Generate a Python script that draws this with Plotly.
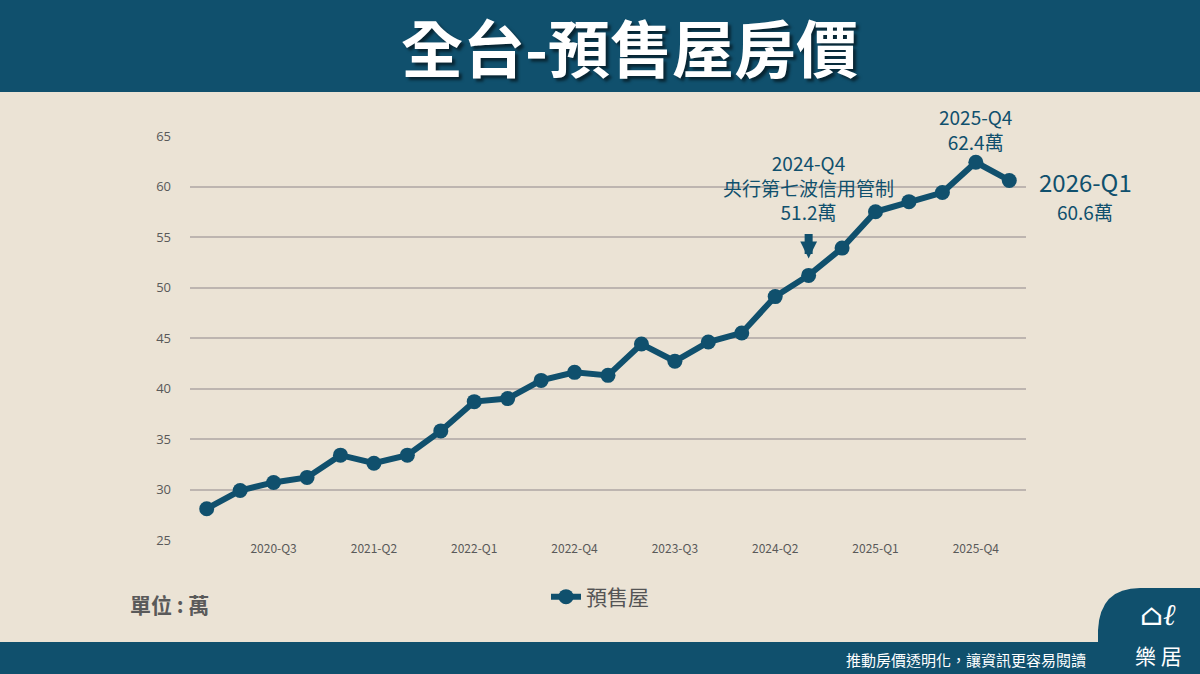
import plotly.graph_objects as go

# ── data ──
quarters = [
    "2020-Q1", "2020-Q2", "2020-Q3", "2020-Q4",
    "2021-Q1", "2021-Q2", "2021-Q3", "2021-Q4",
    "2022-Q1", "2022-Q2", "2022-Q3", "2022-Q4",
    "2023-Q1", "2023-Q2", "2023-Q3", "2023-Q4",
    "2024-Q1", "2024-Q2", "2024-Q3", "2024-Q4",
    "2025-Q1", "2025-Q2", "2025-Q3", "2025-Q4",
    "2026-Q1",
]
presale_price = [
    28.1, 29.9, 30.7, 31.2,
    33.4, 32.6, 33.4, 35.8,
    38.7, 39.0, 40.8, 41.6,
    41.3, 44.4, 42.7, 44.6,
    45.5, 49.1, 51.2, 53.9,
    57.5, 58.5, 59.4, 62.4,
    60.6,
]
tick_labels = ["2020-Q3", "2021-Q2", "2022-Q1", "2022-Q4",
               "2023-Q3", "2024-Q2", "2025-Q1", "2025-Q4"]
y_ticks = [25, 30, 35, 40, 45, 50, 55, 60, 65]

# callouts: (point on the axis, label text)
policy_point = "2024-Q3"   # the chart puts the 2024-Q4 policy note on this point
policy_text = "2024-Q4<br>央行第七波信用管制<br>51.2萬"
peak_point = "2025-Q4"
peak_text = "2025-Q4<br>62.4萬"
last_point = "2026-Q1"
last_title = "2026-Q1"
last_value = "60.6萬"

NAVY = "#10506d"
BG = "#ebe3d5"
GRID = "#bdb5b0"
CJK = "Noto Sans CJK TC"

W, H = 1200, 674
L, R, T, B = 190, 174, 136, 134


# pixel -> paper helpers for decoration shapes / labels
def px(x):
    return (x - L) / (W - L - R)


def py(y):
    return (H - B - y) / (H - T - B)


def value_at(q):
    return presale_price[quarters.index(q)]


fig = go.Figure()

fig.add_trace(go.Scatter(
    x=quarters,
    y=presale_price,
    mode="lines+markers",
    name="預售屋",
    line=dict(color=NAVY, width=6),
    marker=dict(color=NAVY, size=15),
    showlegend=True,
))

# ── header / footer bars ──
fig.add_shape(type="rect", xref="paper", yref="paper",
              x0=px(0), x1=px(W), y0=py(92), y1=py(0),
              fillcolor=NAVY, line_width=0, layer="below")
fig.add_shape(type="rect", xref="paper", yref="paper",
              x0=px(0), x1=px(W), y0=py(H), y1=py(642),
              fillcolor=NAVY, line_width=0, layer="below")
# logo tab
fig.add_shape(type="path", xref="paper", yref="paper",
              path=(f"M {px(1098)} {py(H)} L {px(1098)} {py(630)} "
                    f"Q {px(1100)} {py(588)} {px(1140)} {py(588)} "
                    f"L {px(W)} {py(588)} L {px(W)} {py(H)} Z"),
              fillcolor=NAVY, line_width=0, layer="below")

fig.add_annotation(text="<b>全台-預售屋房價</b>", xref="paper", yref="paper",
                   x=px(629), y=py(46), xanchor="center", yanchor="middle",
                   showarrow=False,
                   font=dict(size=62, color="white", family=CJK,
                             shadow="3px 3px 3px rgba(0,0,0,0.55)"))

fig.add_annotation(text="推動房價透明化，讓資訊更容易閱讀", xref="paper", yref="paper",
                   x=px(1088), y=py(659), xanchor="right", yanchor="middle",
                   showarrow=False,
                   font=dict(size=15, color="white", family=CJK))
fig.add_annotation(text="樂 居", xref="paper", yref="paper",
                   x=px(1158), y=py(655), xanchor="center", yanchor="middle",
                   showarrow=False,
                   font=dict(size=21, color="white", family=CJK))
fig.add_annotation(text="<i>⌂ℓ</i>", xref="paper", yref="paper",
                   x=px(1158), y=py(614), xanchor="center", yanchor="middle",
                   showarrow=False,
                   font=dict(size=30, color="white", family="DejaVu Serif"))

fig.add_annotation(text="<b>單位 : 萬</b>", xref="paper", yref="paper",
                   x=px(128), y=py(604), xanchor="left", yanchor="middle",
                   showarrow=False,
                   font=dict(size=21, color="#5a5a5a", family=CJK))

# ── point callouts ──
fig.add_annotation(text=policy_text, x=policy_point, y=value_at(policy_point),
                   yshift=88, xanchor="center", yanchor="middle", showarrow=False,
                   font=dict(size=19, color=NAVY, family=CJK))
fig.add_annotation(x=policy_point, y=value_at(policy_point), ax=0, ay=-43, text="",
                   showarrow=True, arrowhead=2, arrowwidth=8, arrowsize=0.42,
                   arrowcolor=NAVY, standoff=17)
fig.add_annotation(text=peak_text, x=peak_point, y=value_at(peak_point),
                   yshift=33, xanchor="center", yanchor="middle", showarrow=False,
                   font=dict(size=19, color=NAVY, family=CJK))
fig.add_annotation(text=last_title, x=last_point, y=value_at(last_point),
                   xshift=76, yshift=-1, xanchor="center", yanchor="middle",
                   showarrow=False,
                   font=dict(size=24, color=NAVY, family=CJK))
fig.add_annotation(text=last_value, x=last_point, y=value_at(last_point),
                   xshift=76, yshift=-31, xanchor="center", yanchor="middle",
                   showarrow=False,
                   font=dict(size=19, color=NAVY, family=CJK))

fig.update_layout(
    width=W, height=H,
    margin=dict(l=L, r=R, t=T, b=B),
    paper_bgcolor=BG,
    plot_bgcolor=BG,
    font=dict(family=CJK, color="#595959"),
    legend=dict(orientation="h", x=px(600), xanchor="center",
                y=py(597), yanchor="middle",
                font=dict(size=21, color="#555555", family=CJK),
                bgcolor="rgba(0,0,0,0)", itemwidth=30),
    hovermode="x",
)

fig.update_xaxes(
    type="category",
    range=[-0.5, len(quarters) - 0.5],
    tickmode="array", tickvals=tick_labels, ticktext=tick_labels,
    showgrid=False, zeroline=False, showline=False, ticks="",
    tickfont=dict(size=12, color="#595959", family="Liberation Sans Narrow, " + CJK),
)
fig.update_yaxes(
    range=[25, 65],
    tickvals=y_ticks,
    showgrid=True, gridcolor=GRID, gridwidth=1.5,
    zeroline=False, showline=False, ticks="",
    ticklabelstandoff=18,
    tickfont=dict(size=13, color="#595959", family="Open Sans"),
)

fig.write_html("out.html", config={"displayModeBar": False},
               post_script="document.body.style.margin='0';")
